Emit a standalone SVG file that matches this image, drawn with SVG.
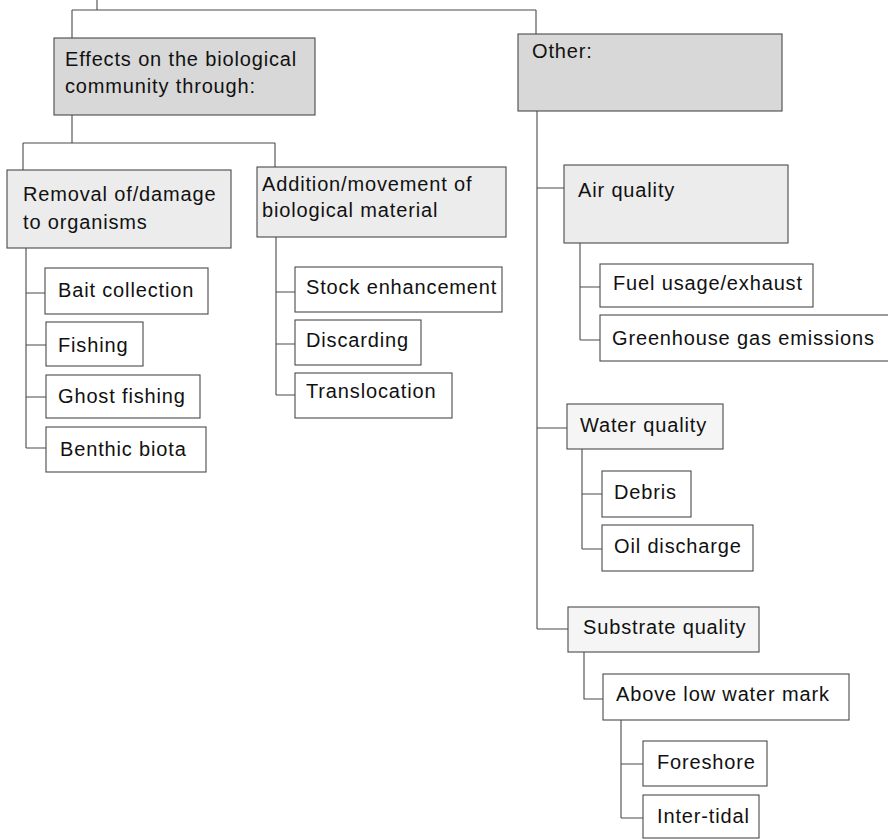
<svg xmlns="http://www.w3.org/2000/svg" width="888" height="840" viewBox="0 0 888 840">
  <style>
    .box { stroke: #4a4a4a; stroke-width: 1.1; fill: #ffffff; }
    .heavy { fill: #d8d8d8; }
    .light { fill: #ececec; }
    .faint { fill: #f5f5f5; }
    .txt { font-family: "Liberation Sans", Arial, sans-serif; font-size: 20px; letter-spacing: 0.85px; fill: #111111; }
    .conn { fill: none; stroke: #4a4a4a; stroke-width: 1.1; }
  </style>
  <rect x="0" y="0" width="888" height="840" fill="#ffffff"/>

  <!-- tree connectors -->
  <g id="connectors" class="conn">
    <path d="M97 0 V10 M72 10 H536 M72 10 V38 M536 10 V34"/>
    <path d="M72 115 V143 M23 143 H275 M23 143 V170 M275 143 V167"/>
    <path d="M26 248 V448 M26 293 H45 M26 345 H46 M26 397 H46 M26 448 H46"/>
    <path d="M276 237 V395 M276 292 H295 M276 344 H295 M276 395 H295"/>
    <path d="M537 111 V629 M537 188 H564 M537 428 H567 M537 629 H568"/>
    <path d="M580 243 V340 M580 287 H600 M580 340 H600"/>
    <path d="M582 449 V549 M582 494 H602 M582 549 H602"/>
    <path d="M584 652 V699 H603"/>
    <path d="M621 720 V818 M621 764 H643 M621 818 H643"/>
  </g>

  <!-- left branch -->
  <g id="effects">
    <rect class="box heavy" x="54" y="38" width="261" height="77"/>
    <text class="txt" x="65" y="66">Effects on the biological</text>
    <text class="txt" x="65" y="93">community through:</text>
  </g>
  <g id="removal">
    <rect class="box light" x="7" y="170" width="224" height="78"/>
    <text class="txt" x="23" y="201">Removal of/damage</text>
    <text class="txt" x="23" y="229">to organisms</text>
  </g>
  <g id="addition">
    <rect class="box light" x="257" y="167" width="249" height="70"/>
    <text class="txt" x="262" y="191">Addition/movement of</text>
    <text class="txt" x="262" y="217">biological material</text>
  </g>
  <g id="bait-collection">
    <rect class="box" x="45" y="268" width="163" height="46"/>
    <text class="txt" x="58" y="297">Bait collection</text>
  </g>
  <g id="fishing">
    <rect class="box" x="46" y="322" width="97" height="44"/>
    <text class="txt" x="58" y="352">Fishing</text>
  </g>
  <g id="ghost-fishing">
    <rect class="box" x="46" y="375" width="154" height="43"/>
    <text class="txt" x="58" y="403">Ghost fishing</text>
  </g>
  <g id="benthic-biota">
    <rect class="box" x="46" y="427" width="160" height="45"/>
    <text class="txt" x="60" y="456">Benthic biota</text>
  </g>
  <g id="stock-enhancement">
    <rect class="box" x="295" y="267" width="207" height="45"/>
    <text class="txt" x="306" y="294">Stock enhancement</text>
  </g>
  <g id="discarding">
    <rect class="box" x="295" y="320" width="126" height="45"/>
    <text class="txt" x="306" y="347">Discarding</text>
  </g>
  <g id="translocation">
    <rect class="box" x="295" y="373" width="157" height="45"/>
    <text class="txt" x="306" y="398">Translocation</text>
  </g>

  <!-- right branch -->
  <g id="other">
    <rect class="box heavy" x="518" y="34" width="264" height="77"/>
    <text class="txt" x="532" y="58">Other:</text>
  </g>
  <g id="air-quality">
    <rect class="box light" x="564" y="165" width="224" height="78"/>
    <text class="txt" x="578" y="197">Air quality</text>
  </g>
  <g id="fuel-usage">
    <rect class="box" x="600" y="264" width="213" height="43"/>
    <text class="txt" x="613" y="290">Fuel usage/exhaust</text>
  </g>
  <g id="greenhouse-gas">
    <rect class="box" x="600" y="315" width="292" height="46"/>
    <text class="txt" x="612" y="345">Greenhouse gas emissions</text>
  </g>
  <g id="water-quality">
    <rect class="box faint" x="567" y="404" width="156" height="45"/>
    <text class="txt" x="580" y="432">Water quality</text>
  </g>
  <g id="debris">
    <rect class="box" x="602" y="471" width="89" height="46"/>
    <text class="txt" x="614" y="499">Debris</text>
  </g>
  <g id="oil-discharge">
    <rect class="box" x="602" y="525" width="151" height="46"/>
    <text class="txt" x="614" y="553">Oil discharge</text>
  </g>
  <g id="substrate-quality">
    <rect class="box faint" x="568" y="607" width="191" height="45"/>
    <text class="txt" x="583" y="634">Substrate quality</text>
  </g>
  <g id="above-low-water">
    <rect class="box" x="603" y="674" width="246" height="46"/>
    <text class="txt" x="616" y="701">Above low water mark</text>
  </g>
  <g id="foreshore">
    <rect class="box" x="643" y="741" width="124" height="45"/>
    <text class="txt" x="657" y="769">Foreshore</text>
  </g>
  <g id="inter-tidal">
    <rect class="box" x="643" y="795" width="116" height="43"/>
    <text class="txt" x="657" y="823">Inter-tidal</text>
  </g>
</svg>
